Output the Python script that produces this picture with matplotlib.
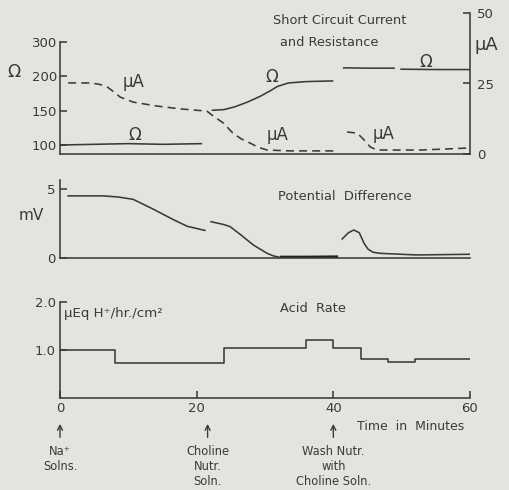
import numpy as np
import matplotlib
matplotlib.use("Agg")
import matplotlib.pyplot as plt

# ---------------- data ----------------
# Resistance (ohm) segments: time (min), value (ohm)
ohm1_t = [0, 5, 10, 15, 20.8]
ohm1_v = [100, 101, 102, 101, 102]
ohm2_t = [22.2, 24.0, 25.6, 27.5, 29.3, 30.8, 31.8, 33.4, 36.0, 40.0]
ohm2_v = [151, 152, 156, 163, 171, 179, 185, 190, 192, 193]
ohm3_t = [41.4, 45.0, 49.0]
ohm3_v = [224, 223, 223]
ohm4_t = [49.8, 55.0, 60.0]
ohm4_v = [220, 219, 219]

# Short circuit current (uA)
ua1_t = [1.2, 4.4, 5.8, 6.9, 8.0, 8.8, 10.7, 14.2, 17.6, 21.5, 22.4, 23.9, 25.3,
         26.5, 27.8, 29.0, 30.3, 33.7, 40.0]
ua1_v = [25.2, 25.2, 24.7, 23.8, 21.8, 20.2, 18.4, 17.0, 16.0, 15.2, 13.5, 11.0, 7.4,
         5.4, 3.9, 2.4, 1.4, 1.1, 1.1]
ua2_t = [42.0, 43.5, 44.5, 45.4, 46.4, 52.7, 59.6]
ua2_v = [7.8, 7.4, 5.0, 2.5, 1.4, 1.4, 2.1]

# Potential difference (mV)
pd1_t = [1.2, 6.3, 8.5, 10.7, 13.6, 16.5, 18.6, 21.2]
pd1_v = [4.5, 4.5, 4.42, 4.25, 3.55, 2.8, 2.3, 2.0]
pd2_t = [22.1, 24.0, 24.9, 26.3, 28.3, 30.3, 31.3, 32.2]
pd2_v = [2.63, 2.42, 2.27, 1.74, 0.94, 0.34, 0.14, 0.05]
pd2b_t = [32.2, 36.0, 40.7]
pd2b_v = [0.05, 0.05, 0.07]
pd3_t = [41.3, 42.2, 43.0, 43.8, 44.5, 45.1, 45.8, 46.8, 52.2, 60.0]
pd3_v = [1.38, 1.83, 2.03, 1.83, 1.06, 0.63, 0.42, 0.34, 0.22, 0.27]

# Acid rate (uEq H+/hr/cm2), step function
acid_t = [0, 8, 24, 36, 40, 44, 48, 52, 60]
acid_v = [1.0, 0.72, 1.05, 1.2, 1.05, 0.82, 0.76, 0.82]

ohm_ticks = [100, 150, 200, 300]
ua_ticks = [0, 25, 50]
mv_ticks = [0, 5]
acid_ticks = [1.0, 2.0]
time_ticks = [0, 20, 40, 60]

events_t = [0, 21.6, 40]
events_lbl = ["Na\u207a\nSolns.", "Choline\nNutr.\nSoln.", "Wash Nutr.\nwith\nCholine Soln."]

# ---------------- style ----------------
BG = "#e3e3df"
INK = "#3a3a3a"
LW = 1.15
plt.rcParams["font.family"] = ["DejaVu Sans"]
plt.rcParams["text.color"] = INK
plt.rcParams["axes.edgecolor"] = INK
plt.rcParams["xtick.color"] = INK
plt.rcParams["ytick.color"] = INK

W, H = 510, 490
fig = plt.figure(figsize=(W / 100, H / 100), dpi=100, facecolor=BG)


def box(x0, y0, x1, y1):
    return [x0 / W, 1 - y1 / H, (x1 - x0) / W, (y1 - y0) / H]


def ftext(x, y, s, **kw):
    fig.text(x / W, 1 - y / H, s, color=INK, **kw)


# ---- top panel: resistance (left, irregular scale) & current (right) ----
ax1 = fig.add_axes(box(60, 13, 470, 154))
ohm_pts = [0, 100, 150, 200, 300, 1000]
pos_pts = [-59, 9, 43, 78, 112, 350]
fwd = lambda v: np.interp(v, ohm_pts, pos_pts)
inv = lambda p: np.interp(p, pos_pts, ohm_pts)
ax1.set_yscale("function", functions=(fwd, inv))
ax1.set_ylim(float(inv(0)), float(inv(141)))
ax1.set_xlim(0, 60)
ax1.set_facecolor("none")
for t, v in [(ohm1_t, ohm1_v), (ohm2_t, ohm2_v), (ohm3_t, ohm3_v), (ohm4_t, ohm4_v)]:
    ax1.plot(t, v, color=INK, lw=LW, solid_capstyle="butt")
ax1.set_yticks(ohm_ticks)
ax1.set_yticklabels([str(v) for v in ohm_ticks], fontsize=9.5)
ax1.yaxis.set_minor_locator(matplotlib.ticker.NullLocator())
ax1.tick_params(axis="y", direction="in", length=5, width=LW, pad=2)
ax1.set_xticks([])
ax1.spines["top"].set_visible(False)
ax1.spines["right"].set_visible(False)
ax1.spines["left"].set_bounds(float(inv(0)), 300)
for s in ax1.spines.values():
    s.set_linewidth(LW)

ax1r = ax1.twinx()
ax1r.set_ylim(0, 50)
ax1r.set_xlim(0, 60)
for t, v in [(ua1_t, ua1_v), (ua2_t, ua2_v)]:
    ax1r.plot(t, v, color=INK, lw=LW, linestyle=(0, (5, 3.2)))
ax1r.set_yticks(ua_ticks)
ax1r.set_yticklabels([str(v) for v in ua_ticks], fontsize=9.5)
ax1r.tick_params(axis="y", direction="in", length=5, width=LW, pad=5)
for k in ["top", "left", "bottom"]:
    ax1r.spines[k].set_visible(False)
ax1r.spines["right"].set_linewidth(LW)

ftext(14, 72, "\u03a9", fontsize=12.5, ha="center", va="center")
ftext(475, 45, "\u03bcA", fontsize=13, ha="left", va="center")
ftext(340, 20, "Short Circuit Current", fontsize=9.3, ha="center", va="center")
ftext(329, 43, "and Resistance", fontsize=9.3, ha="center", va="center")
ftext(135, 135, "\u03a9", fontsize=12, ha="center", va="center")
ftext(272, 77, "\u03a9", fontsize=12, ha="center", va="center")
ftext(426, 62, "\u03a9", fontsize=12, ha="center", va="center")
ftext(134, 82, "\u03bcA", fontsize=12, ha="center", va="center")
ftext(278, 135, "\u03bcA", fontsize=12, ha="center", va="center")
ftext(384, 134, "\u03bcA", fontsize=12, ha="center", va="center")

# ---- middle panel: potential difference ----
ax2 = fig.add_axes(box(60, 180, 470, 258))
ax2.set_facecolor("none")
ax2.set_xlim(0, 60)
ax2.set_ylim(0, 5.65)
ax2.plot(pd1_t, pd1_v, color=INK, lw=LW)
ax2.plot(pd2_t, pd2_v, color=INK, lw=LW)
ax2.plot(pd2b_t, pd2b_v, color="#222222", lw=2.4, solid_capstyle="butt")
ax2.plot(pd3_t, pd3_v, color=INK, lw=LW)
ax2.set_yticks(mv_ticks)
ax2.set_yticklabels([str(v) for v in mv_ticks], fontsize=9.5)
ax2.tick_params(axis="y", direction="in", length=5, width=LW, pad=3)
ax2.set_xticks([])
ax2.spines["top"].set_visible(False)
ax2.spines["right"].set_visible(False)
for s in ax2.spines.values():
    s.set_linewidth(LW)
ftext(31, 215, "mV", fontsize=11, ha="center", va="center")
ftext(345, 196, "Potential  Difference", fontsize=9.4, ha="center", va="center")

# ---- bottom panel: acid rate ----
ax3 = fig.add_axes(box(60, 302, 470, 398))
ax3.set_facecolor("none")
ax3.set_xlim(0, 60)
ax3.set_ylim(0, 2.0)
ax3.step(acid_t, acid_v + [acid_v[-1]], where="post", color=INK, lw=LW)
ax3.set_yticks(acid_ticks)
ax3.set_yticklabels([f"{v:.1f}" for v in acid_ticks], fontsize=9.5)
ax3.set_xticks(time_ticks)
ax3.set_xticklabels([str(v) for v in time_ticks], fontsize=9.5)
ax3.tick_params(axis="both", direction="in", length=5, width=LW, pad=3)
ax3.spines["top"].set_visible(False)
ax3.spines["right"].set_visible(False)
for s in ax3.spines.values():
    s.set_linewidth(LW)
ftext(64, 313, "\u03bcEq H\u207a/hr./cm\u00b2", fontsize=9.6, ha="left", va="center")
ftext(313, 308, "Acid  Rate", fontsize=9.4, ha="center", va="center")
ftext(411, 426, "Time  in  Minutes", fontsize=9, ha="center", va="center")

tr = ax3.get_xaxis_transform()
for t, lbl in zip(events_t, events_lbl):
    ax3.annotate("", xy=(t, -0.27), xytext=(t, -0.41), xycoords=tr, textcoords=tr,
                 arrowprops=dict(arrowstyle="->,head_length=0.35,head_width=0.18",
                                 color=INK, lw=1.0, shrinkA=0, shrinkB=0),
                 annotation_clip=False)
    ax3.text(t, -0.49, lbl, transform=tr, ha="center", va="top", fontsize=8.3,
             linespacing=1.2, color=INK)

fig.savefig("out.png", dpi=100, facecolor=BG)
